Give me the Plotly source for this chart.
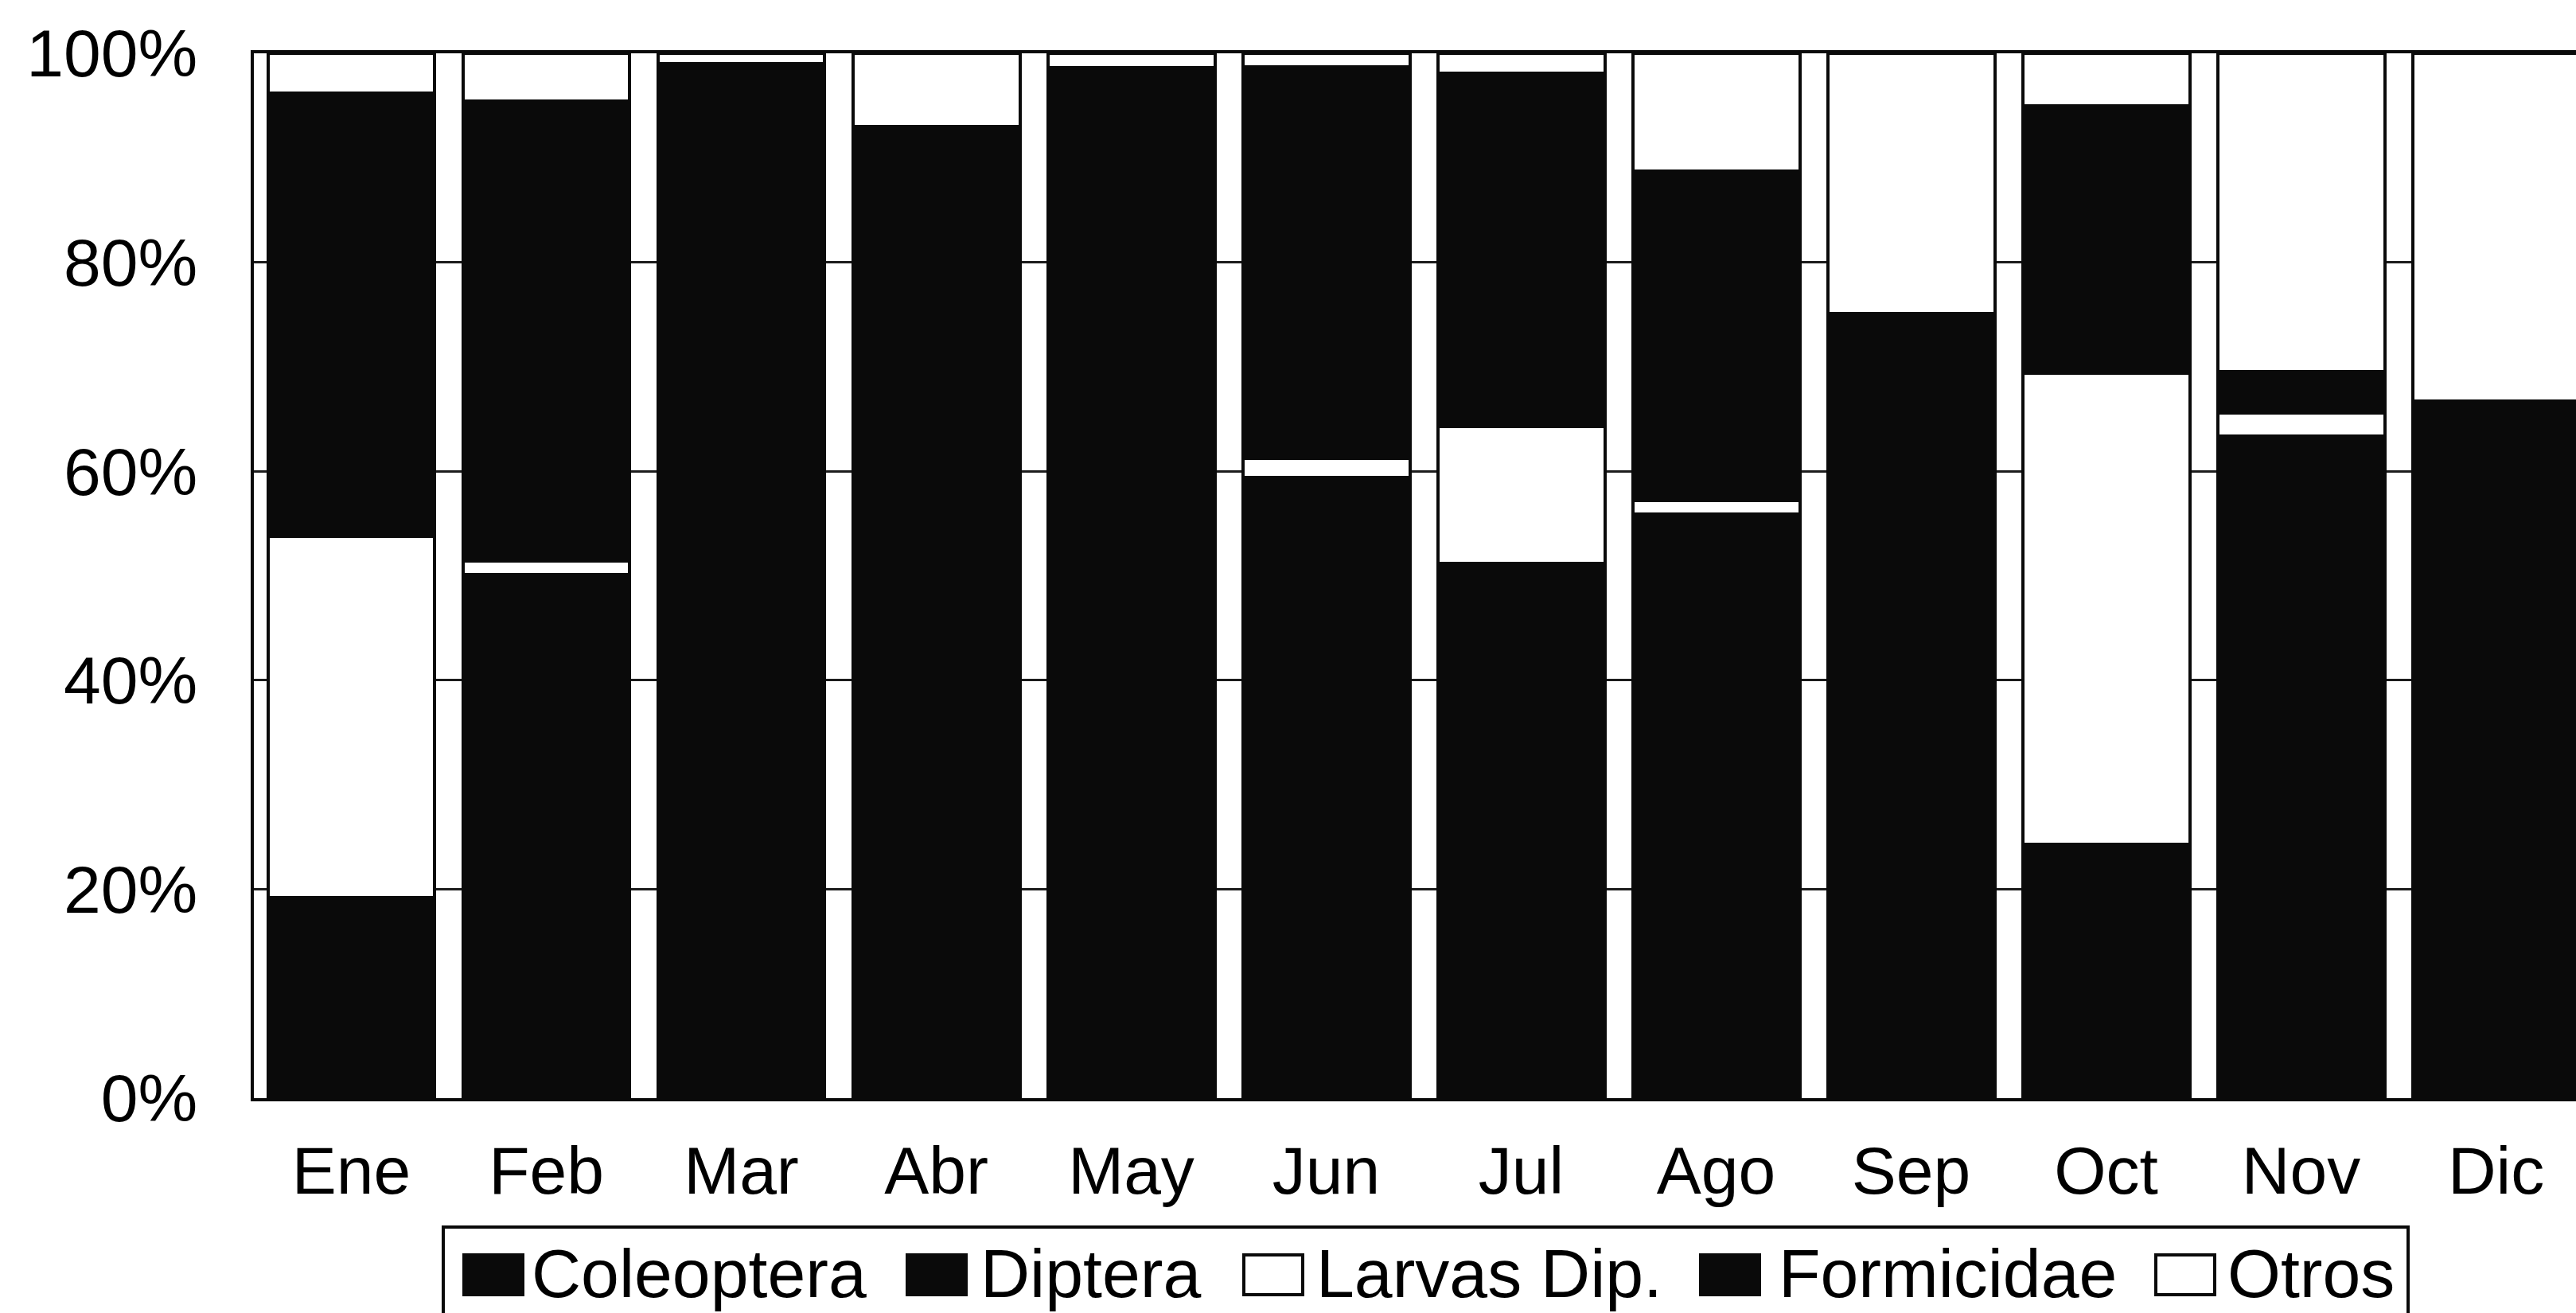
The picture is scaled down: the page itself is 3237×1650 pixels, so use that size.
import plotly.graph_objects as go

months = ["Ene", "Feb", "Mar", "Abr", "May", "Jun", "Jul", "Ago", "Sep", "Oct", "Nov", "Dic"]
coleoptera = [8.0, 20.0, 15.0, 4.0, 30.0, 25.0, 20.0, 25.0, 35.0, 10.0, 30.0, 33.3]
diptera = [11.2, 30.1, 20.0, 6.0, 50.0, 34.4, 31.2, 30.9, 40.1, 14.3, 33.4, 33.4]
larvas_dip = [34.6, 1.3, 0.0, 0.0, 0.0, 1.8, 13.1, 1.3, 0.0, 45.1, 2.2, 0.0]
formicidae = [42.4, 44.0, 64.0, 83.0, 18.6, 37.5, 33.8, 31.5, 0.0, 25.6, 3.9, 0.0]
otros = [3.8, 4.6, 1.0, 7.0, 1.4, 1.3, 1.9, 11.3, 24.9, 5.0, 30.5, 33.3]
y_ticks = [0, 20, 40, 60, 80, 100]
y_tick_labels = ["0%", "20%", "40%", "60%", "80%", "100%"]

INK = "#0a0a0a"
series = [
    ("Coleoptera", coleoptera, INK),
    ("Diptera", diptera, INK),
    ("Larvas Dip.", larvas_dip, "#ffffff"),
    ("Formicidae", formicidae, INK),
    ("Otros", otros, "#ffffff"),
]

W, H = 3237, 1650
L, T, B = 319, 67, 1380  # plot area edges in pixels (right edge = W)
FONT = "Liberation Sans, Arial, sans-serif"

fig = go.Figure()
for name, vals, col in series:
    fig.add_trace(go.Bar(
        x=months, y=[v if v > 0 else None for v in vals], name=name,
        marker=dict(color=col, line=dict(color=INK, width=4)),
        showlegend=False,
    ))

# custom legend (large symbols like the original); paper coords relative to plot area
def px_x(p):
    return (p - L) / (W - L)

def px_y(p):
    return (B - p) / (B - T)

shapes = [dict(type="rect", xref="paper", yref="paper",
               x0=px_x(557), x1=px_x(3026), y0=px_y(1720), y1=px_y(1542),
               line=dict(color=INK, width=4), fillcolor="rgba(0,0,0,0)", layer="above")]
annotations = []
legend_pos = [(583, 666), (1140, 1230), (1563, 1652), (2137, 2233), (2709, 2797)]
for (name, vals, col), (sx, tx) in zip(series, legend_pos):
    shapes.append(dict(type="rect", xref="paper", yref="paper",
                       x0=px_x(sx), x1=px_x(sx + 74), y0=px_y(1627), y1=px_y(1577),
                       line=dict(color=INK, width=4), fillcolor=col, layer="above"))
    annotations.append(dict(xref="paper", yref="paper", x=px_x(tx), y=px_y(1600),
                            xanchor="left", yanchor="middle", showarrow=False,
                            text=name, font=dict(family=FONT, size=86, color="#000000")))

fig.update_layout(
    width=W, height=H,
    margin=dict(l=L, r=0, t=T, b=H - B, pad=0),
    paper_bgcolor="#ffffff", plot_bgcolor="#ffffff",
    barmode="stack", bargap=0.143,
    font=dict(family=FONT, size=84, color="#000000"),
    shapes=shapes, annotations=annotations,
    showlegend=False,
    xaxis=dict(range=[-0.5, 11.41], showline=True, linecolor=INK, linewidth=4,
               mirror=True, showgrid=False, ticks="", ticklabelstandoff=15,
               tickfont=dict(family=FONT, size=84, color="#000000")),
    yaxis=dict(range=[0, 100], tickvals=y_ticks, ticktext=y_tick_labels, showline=True,
               linecolor=INK, linewidth=4, showgrid=True, gridcolor="#1c1c1c",
               gridwidth=3, zeroline=False, ticks="", ticklabelstandoff=50,
               tickfont=dict(family=FONT, size=84, color="#000000")),
)

fig.write_html("out.html")
